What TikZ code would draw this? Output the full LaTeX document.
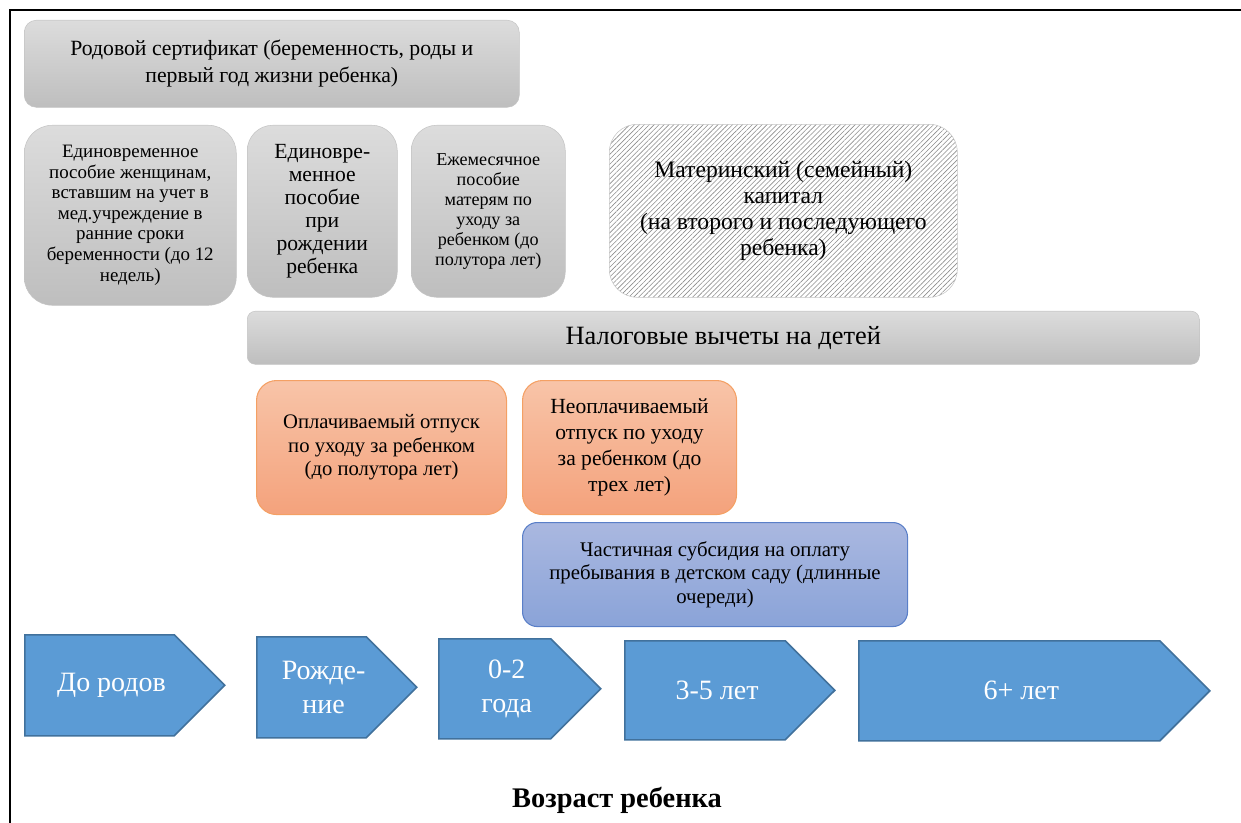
\documentclass[tikz,border=0pt]{standalone}
\usepackage{fontspec}
\setmainfont{Liberation Serif}
\usepackage{xcolor}
\usetikzlibrary{
  shapes.symbols,
  patterns.meta
}

\definecolor{graytop}{HTML}{DCDCDC}
\definecolor{graybot}{HTML}{BEBEBE}
\definecolor{grayline}{HTML}{C4C4C4}
\definecolor{orangetop}{HTML}{F8C4A8}
\definecolor{orangebot}{HTML}{F4A27C}
\definecolor{orangeline}{HTML}{F4A064}
\definecolor{bluetop}{HTML}{AAB8E0}
\definecolor{bluebot}{HTML}{8AA3D8}
\definecolor{blueline}{HTML}{5A7FC8}
\definecolor{agefill}{HTML}{5B9BD5}
\definecolor{ageline}{HTML}{41719C}

\newcommand{\agepad}{\hspace*{18pt}}

\begin{document}
\begin{tikzpicture}[x=0.75pt, y=-0.75pt,
  every node/.style = {align=center, inner sep=0pt, anchor=north west},
  graybox/.style = {shape=rectangle, draw=grayline,
    top color=graytop, bottom color=graybot},
  hatchbox/.style = {shape=rectangle, draw=grayline, fill=white,
    pattern={Lines[angle=45, distance=2.6pt, line width=0.45pt]},
    pattern color=black!45},
  orangebox/.style = {shape=rectangle, draw=orangeline, line width=0.8pt,
    rounded corners=15pt, top color=orangetop, bottom color=orangebot},
  bluebox/.style = {shape=rectangle, draw=blueline, line width=0.8pt,
    rounded corners=11pt, top color=bluetop, bottom color=bluebot},
  agebox/.style = {shape=signal, signal to=east, signal pointer angle=90,
    draw=ageline, line width=1.2pt, fill=agefill, text=white,
    font=\fontsize{21}{25.5}\selectfont}]

  \useasboundingbox (0,0) rectangle (1241,823);
  % frame
  \draw[line width=1.6pt] (10,823) -- (10,10) -- (1241,10);

  % benefits
  \node[graybox, rounded corners=9pt, minimum width=371.25pt, minimum height=65.25pt,
    font=\fontsize{16.3}{20.3}\selectfont] (cert) at (24,20)
    {Родовой сертификат (беременность, роды и\\первый год жизни ребенка)};
  \node[graybox, rounded corners=21pt, minimum width=159pt, minimum height=135pt,
    font=\fontsize{14.2}{15.4}\selectfont] (early) at (24,125)
    {Единовременное\\пособие женщинам,\\вставшим на учет в\\мед.учреждение в\\ранние сроки\\беременности (до 12\\недель)};
  \node[graybox, rounded corners=19pt, minimum width=112.5pt, minimum height=129pt,
    font=\fontsize{16.2}{17.3}\selectfont] (birth) at (247,125)
    {Единовре-\\менное\\пособие\\при\\рождении\\ребенка};
  \node[graybox, rounded corners=19pt, minimum width=115.5pt, minimum height=129pt,
    font=\fontsize{13.6}{15}\selectfont] (monthly) at (411,125)
    {Ежемесячное\\пособие\\матерям по\\уходу за\\ребенком (до\\полутора лет)};
  \node[hatchbox, rounded corners=21pt, minimum width=261pt, minimum height=129.75pt,
    font=\fontsize{17.7}{19.5}\selectfont] (capital) at (609,124)
    {Материнский (семейный)\\капитал\\(на второго и последующего\\ребенка)};
  \node[graybox, rounded corners=6pt, minimum width=714pt, minimum height=39.75pt,
    font=\fontsize{19.8}{21}\selectfont] (tax) at (247,311)
    {Налоговые вычеты на детей};

  % leave
  \node[orangebox, minimum width=187.5pt, minimum height=100.5pt,
    font=\fontsize{15.5}{17.6}\selectfont] (paid) at (256,380)
    {Оплачиваемый отпуск\\по уходу за ребенком\\(до полутора лет)};
  \node[orangebox, minimum width=160.5pt, minimum height=100.5pt,
    font=\fontsize{16.2}{19.5}\selectfont] (unpaid) at (522,380)
    {Неоплачиваемый\\отпуск по уходу\\за ребенком (до\\трех лет)};
  \node[bluebox, minimum width=288.75pt, minimum height=78pt,
    font=\fontsize{15.6}{17.6}\selectfont] (kinder) at (522,522)
    {Частичная субсидия на оплату\\пребывания в детском саду (длинные\\очереди)};

  % age scale
  \node[agebox, minimum width=150pt, minimum height=75.75pt] (before) at (24,634) {\agepad До родов};
  \node[agebox, minimum width=120pt, minimum height=75.75pt] (newborn) at (256,636) {\agepad Рожде-\\\agepad ние};
  \node[agebox, minimum width=121.5pt, minimum height=75pt] (infant) at (438,638) {\agepad 0-2\\\agepad года};
  \node[agebox, minimum width=157.5pt, minimum height=74.25pt] (preschool) at (624,640) {\agepad 3-5 лет};
  \node[agebox, minimum width=263.25pt, minimum height=75pt] (school) at (858,640) {\agepad 6+ лет};

  \node[anchor=center, font=\fontsize{21.3}{23}\selectfont\bfseries] (age) at (617,800) {Возраст ребенка};
\end{tikzpicture}
\end{document}
